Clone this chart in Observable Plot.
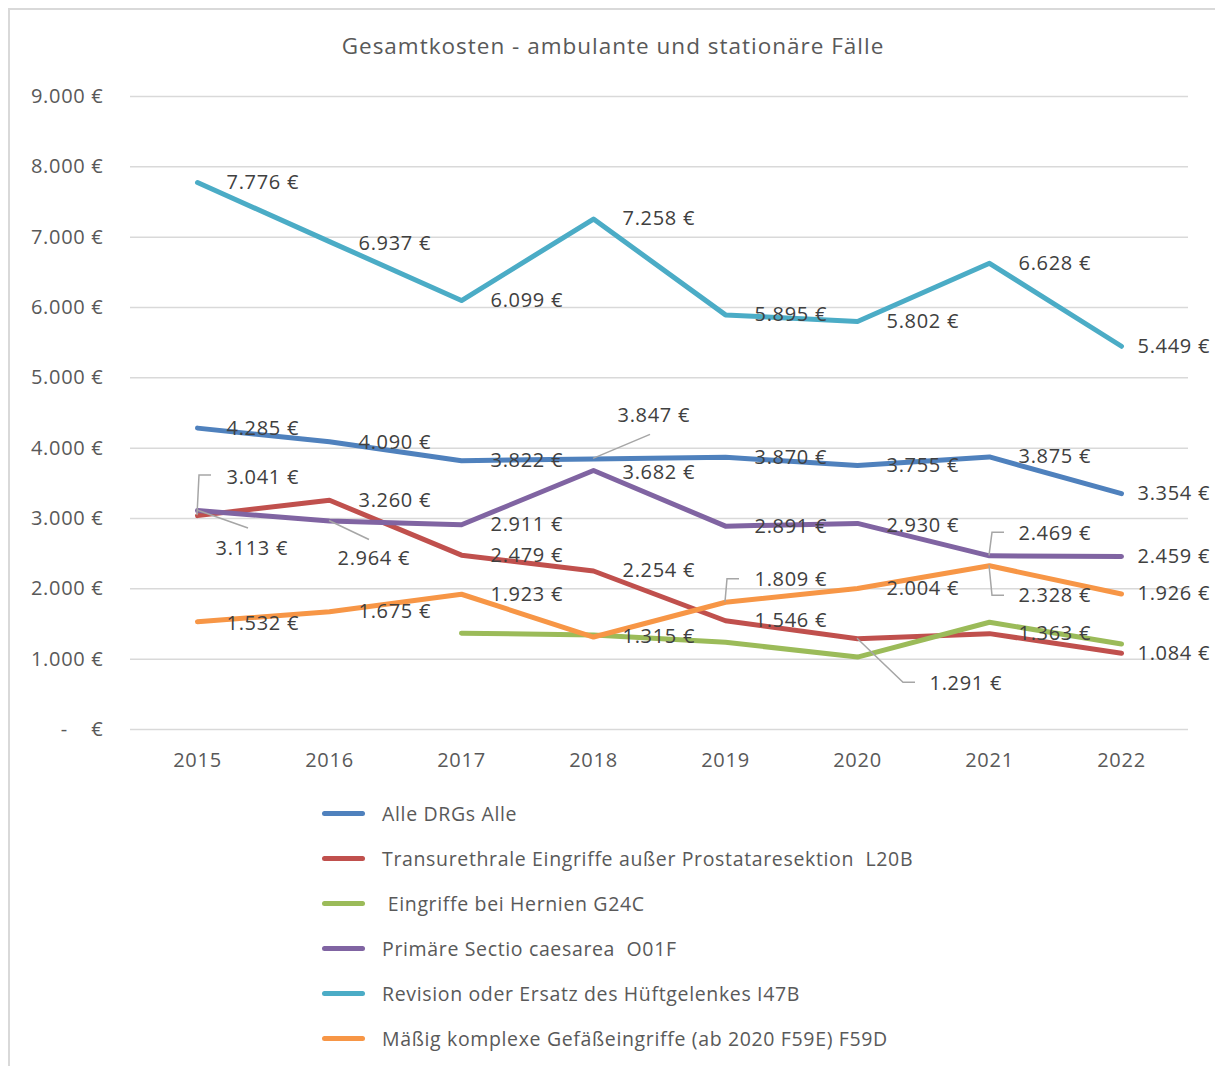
<!DOCTYPE html>
<html>
<head>
<meta charset="utf-8">
<script src="https://cdn.jsdelivr.net/npm/d3@7"></script>
<script src="https://cdn.jsdelivr.net/npm/@observablehq/plot@0.6"></script>
<style>
  html, body { margin: 0; padding: 0; background: #fff; }
  body { width: 1215px; height: 1066px; overflow: hidden; position: relative; font-family: "Open Sans", Lato, sans-serif; }
  #frame { position: absolute; left: 8px; top: 8px; width: 1400px; height: 1200px; border-left: 2px solid #d9d9d9; border-top: 2px solid #d9d9d9; box-sizing: border-box; }
  #title { position: absolute; left: 0; top: 31px; width: 1226px; text-align: center; font-size: 22.5px; letter-spacing: 1px; color: #595959; line-height: 30px; }
  #chart { position: absolute; left: 0; top: 0; }
  #legend { position: absolute; left: 0; top: 0; }
  .item { position: absolute; left: 322px; height: 30px; display: flex; align-items: center; font-size: 19.5px; letter-spacing: 0.65px; color: #595959; white-space: pre; }
  .sw { width: 43px; height: 5px; border-radius: 3px; margin-right: 17px; }
  #chart svg text { letter-spacing: 0.7px; }
</style>
</head>
<body>
<div id="frame"></div>
<div id="title">Gesamtkosten - ambulante und stationäre Fälle</div>
<div id="chart"></div>
<div id="legend"></div>
<script>
// ---- data ----
const years = ["2015", "2016", "2017", "2018", "2019", "2020", "2021", "2022"];
const seriesNames = [
  "Alle DRGs Alle",
  "Transurethrale Eingriffe außer Prostataresektion  L20B",
  " Eingriffe bei Hernien G24C",
  "Primäre Sectio caesarea  O01F",
  "Revision oder Ersatz des Hüftgelenkes I47B",
  "Mäßig komplexe Gefäßeingriffe (ab 2020 F59E) F59D"
];
const alleDRGs      = [4285, 4090, 3822, 3847, 3870, 3755, 3875, 3354];
const transurethral = [3041, 3260, 2479, 2254, 1546, 1291, 1363, 1084];
const hernien       = [null, null, 1370, 1345, 1240, 1030, 1525, 1215];
const sectio        = [3113, 2964, 2911, 3682, 2891, 2930, 2469, 2459];
const hueft         = [7776, 6937, 6099, 7258, 5895, 5802, 6628, 5449];
const gefaess       = [1532, 1675, 1923, 1315, 1809, 2004, 2328, 1926];
const seriesValues = [alleDRGs, transurethral, hernien, sectio, hueft, gefaess];
const labelledSeries = [true, true, false, true, true, true];
const yTicks = [0, 1000, 2000, 3000, 4000, 5000, 6000, 7000, 8000, 9000];

// ---- styles / layout ----
const colors = ["#4F81BD", "#C0504D", "#9BBB59", "#8064A2", "#4BACC6", "#F79646"];
// label offsets in px [dx, dy] keyed by "seriesIndex|year"
const labelOffsets = {
  "4|2016": [29, 2],
  "0|2016": [29, 1],
  "0|2018": [24, -43],
  "3|2015": [18, 38],
  "3|2016": [8, 38],
  "3|2018": [29, 2],
  "3|2020": [29, 2],
  "3|2021": [29, -22],
  "1|2015": [29, -38],
  "1|2020": [72, 45],
  "5|2015": [29, 2],
  "5|2019": [29, -23],
  "5|2021": [29, 30]
};
// leader line paths in px relative to the data point
const leaders = [
  { s: 1, year: "2015", path: [[0, 0], [2, -40], [14, -40]] },
  { s: 3, year: "2015", path: [[0, 0], [51, 18]] },
  { s: 3, year: "2016", path: [[0, 0], [40, 19]] },
  { s: 0, year: "2018", path: [[0, 0], [57, -24]] },
  { s: 5, year: "2019", path: [[0, 0], [2, -23], [14, -23]] },
  { s: 1, year: "2020", path: [[0, 0], [46, 44], [58, 44]] },
  { s: 3, year: "2021", path: [[0, 0], [3, -23], [15, -23]] },
  { s: 5, year: "2021", path: [[0, 0], [3, 30], [15, 30]] }
];

const rows = [];
seriesValues.forEach((vals, si) => {
  vals.forEach((v, i) => {
    if (v != null) rows.push({ series: seriesNames[si], si, year: years[i], value: v });
  });
});

const fmtEuro = v => v === 0 ? "-\u00a0\u00a0\u00a0\u00a0€" : d3.format(",")(v).replace(/,/g, ".") + " €";

const labelMarks = rows.filter(d => labelledSeries[d.si]).map(d => {
  const key = d.si + "|" + d.year;
  let off = labelOffsets[key] || [29, 0];
  if (!labelOffsets[key] && d.year === "2022") off = [16, 0];
  return Plot.text([d], {
    x: "year", y: "value", text: dd => fmtEuro(dd.value),
    dx: off[0], dy: off[1], textAnchor: "start",
    fill: "#404040", fontSize: 20
  });
});

const valueOf = (s, year) => seriesValues[s][years.indexOf(year)];

const leaderMark = (index, scales) => {
  const g = d3.create("svg:g").attr("fill", "none").attr("stroke", "#a6a6a6").attr("stroke-width", 1.5);
  for (const l of leaders) {
    const px = scales.x(l.year), py = scales.y(valueOf(l.s, l.year));
    g.append("path").attr("d", d3.line()(l.path.map(([dx, dy]) => [px + dx, py + dy])));
  }
  return g.node();
};

const plot = Plot.plot({
  width: 1215,
  height: 790,
  marginTop: 96,
  marginBottom: 61,
  marginLeft: 130,
  marginRight: 27,
  style: { fontFamily: "'Open Sans', Lato, sans-serif", fontSize: "20px", color: "#595959", background: "transparent" },
  x: { type: "point", domain: years, padding: 0.5, label: null, tickSize: 0, tickPadding: 23 },
  y: { domain: [0, 9000], ticks: yTicks, tickFormat: fmtEuro, label: null, tickSize: 0, tickPadding: 27 },
  color: { domain: seriesNames, range: colors },
  marks: [
    Plot.ruleY(yTicks, { stroke: "#d9d9d9", strokeWidth: 1.5 }),
    Plot.line(rows, { x: "year", y: "value", z: "series", stroke: "series", strokeWidth: 5, strokeLinejoin: "round", strokeLinecap: "round" }),
    leaderMark,
    ...labelMarks
  ]
});
document.getElementById("chart").appendChild(plot);

// legend
const legend = document.getElementById("legend");
const legendTop = 798;
seriesNames.forEach((name, i) => {
  const item = document.createElement("div");
  item.className = "item";
  item.style.top = (legendTop + i * 45) + "px";
  const sw = document.createElement("div");
  sw.className = "sw";
  sw.style.background = colors[i];
  const tx = document.createElement("span");
  tx.textContent = name;
  item.appendChild(sw);
  item.appendChild(tx);
  legend.appendChild(item);
});
</script>
</body>
</html>
